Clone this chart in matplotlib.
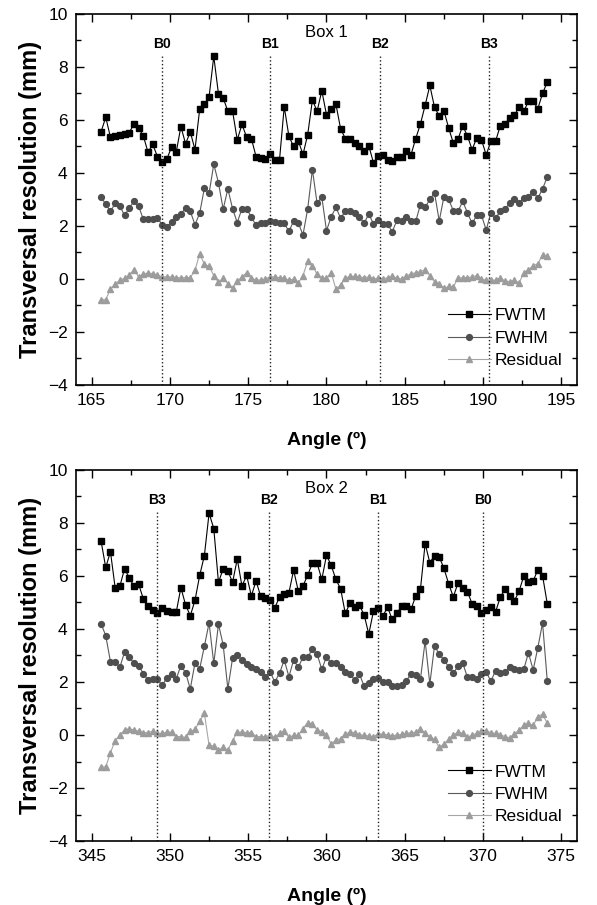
import matplotlib
matplotlib.use("Agg")
import matplotlib.pyplot as plt
from matplotlib.ticker import MultipleLocator

plt.rcParams['font.family'] = ['Liberation Sans', 'DejaVu Sans']

# Box 1 : angles (deg) et resolutions (mm)
angle_box1 = [165.6, 165.9, 166.2, 166.5, 166.8, 167.1, 167.4, 167.7, 168.0, 168.3,
              168.6, 168.9, 169.2, 169.5, 169.8, 170.1, 170.4, 170.7, 171.0, 171.3,
              171.6, 171.9, 172.2, 172.5, 172.8, 173.1, 173.4, 173.7, 174.0, 174.3,
              174.6, 174.9, 175.2, 175.5, 175.8, 176.1, 176.4, 176.7, 177.0, 177.3,
              177.6, 177.9, 178.2, 178.5, 178.8, 179.1, 179.4, 179.7, 180.0, 180.3,
              180.6, 180.9, 181.2, 181.5, 181.8, 182.1, 182.4, 182.7, 183.0, 183.3,
              183.6, 183.9, 184.2, 184.5, 184.8, 185.1, 185.4, 185.7, 186.0, 186.3,
              186.6, 186.9, 187.2, 187.5, 187.8, 188.1, 188.4, 188.7, 189.0, 189.3,
              189.6, 189.9, 190.2, 190.5, 190.8, 191.1, 191.4, 191.7, 192.0, 192.3,
              192.6, 192.9, 193.2, 193.5, 193.8, 194.1]
fwtm_box1 = [5.55, 6.1, 5.35, 5.38, 5.42, 5.47, 5.52, 5.85, 5.7, 5.4,
             4.78, 5.08, 4.62, 4.4, 4.52, 4.97, 4.78, 5.75, 5.1, 5.55,
             4.88, 6.4, 6.6, 6.87, 8.4, 6.98, 6.83, 6.33, 6.33, 5.25,
             5.83, 5.35, 5.3, 4.62, 4.55, 4.52, 4.72, 4.48, 4.5, 6.5,
             5.38, 5.0, 5.2, 4.7, 5.45, 6.75, 6.33, 7.1, 6.2, 6.43,
             6.6, 5.67, 5.3, 5.27, 5.12, 5.0, 4.82, 5.02, 4.39, 4.64,
             4.67, 4.49, 4.47, 4.59, 4.62, 4.82, 4.69, 5.3, 5.85, 6.55,
             7.3, 6.48, 6.15, 6.35, 5.7, 5.13, 5.28, 5.78, 5.4, 4.88,
             5.33, 5.25, 4.68, 5.2, 5.2, 5.78, 5.85, 6.08, 6.18, 6.48,
             6.33, 6.7, 6.7, 6.43, 7.0, 7.43]
fwhm_box1 = [3.08, 2.83, 2.55, 2.85, 2.75, 2.4, 2.68, 2.93, 2.75, 2.25,
             2.28, 2.28, 2.3, 2.05, 1.95, 2.15, 2.33, 2.45, 2.68, 2.55,
             2.05, 2.48, 3.43, 3.23, 4.33, 3.63, 2.63, 3.4, 2.65, 2.13,
             2.65, 2.65, 2.33, 2.03, 2.1, 2.12, 2.18, 2.15, 2.12, 2.1,
             1.8, 2.18, 2.1, 1.67, 2.65, 4.13, 2.85, 3.1, 1.82, 2.35,
             2.7, 2.3, 2.55, 2.57, 2.48, 2.35, 2.1, 2.45, 2.08, 2.23,
             2.07, 2.07, 1.78, 2.22, 2.2, 2.35, 2.18, 2.18, 2.8, 2.7,
             3.0, 3.25, 2.19, 3.1, 3.0, 2.58, 2.55, 2.93, 2.5, 2.1,
             2.4, 2.4, 1.85, 2.5, 2.3, 2.55, 2.65, 2.85, 3.0, 2.85,
             3.05, 3.1, 3.3, 3.05, 3.4, 3.85]
resid_box1 = [-0.78, -0.78, -0.38, -0.2, -0.05, 0.03, 0.15, 0.35, 0.08, 0.18,
              0.23, 0.2, 0.15, 0.08, 0.08, 0.08, 0.05, 0.05, 0.05, 0.05,
              0.33, 0.95, 0.55, 0.48, 0.13, -0.13, 0.03, -0.18, -0.33, -0.08,
              0.08, 0.23, 0.05, -0.05, -0.03, 0.0, 0.08, 0.08, 0.05, 0.03,
              -0.05, 0.0, -0.15, 0.13, 0.68, 0.5, 0.18, 0.03, 0.03, 0.23,
              -0.38, -0.23, 0.03, 0.1, 0.1, 0.08, 0.05, 0.08, 0.0, 0.03,
              0.0, 0.05, 0.1, 0.03, 0.0, 0.1, 0.2, 0.23, 0.28, 0.35,
              0.13, -0.1, -0.18, -0.35, -0.28, -0.3, 0.03, 0.05, 0.05, 0.08,
              0.13, 0.0, -0.05, -0.03, -0.05, 0.05, -0.08, -0.1, -0.05, -0.15,
              0.23, 0.35, 0.5, 0.58, 0.9, 0.85]
blocks_box1 = ["B0", "B1", "B2", "B3"]
blocks_pos_box1 = [169.5, 176.4, 183.4, 190.4]

# Box 2
angle_box2 = [345.6, 345.9, 346.2, 346.5, 346.8, 347.1, 347.4, 347.7, 348.0, 348.3,
              348.6, 348.9, 349.2, 349.5, 349.8, 350.1, 350.4, 350.7, 351.0, 351.3,
              351.6, 351.9, 352.2, 352.5, 352.8, 353.1, 353.4, 353.7, 354.0, 354.3,
              354.6, 354.9, 355.2, 355.5, 355.8, 356.1, 356.4, 356.7, 357.0, 357.3,
              357.6, 357.9, 358.2, 358.5, 358.8, 359.1, 359.4, 359.7, 360.0, 360.3,
              360.6, 360.9, 361.2, 361.5, 361.8, 362.1, 362.4, 362.7, 363.0, 363.3,
              363.6, 363.9, 364.2, 364.5, 364.8, 365.1, 365.4, 365.7, 366.0, 366.3,
              366.6, 366.9, 367.2, 367.5, 367.8, 368.1, 368.4, 368.7, 369.0, 369.3,
              369.6, 369.9, 370.2, 370.5, 370.8, 371.1, 371.4, 371.7, 372.0, 372.3,
              372.6, 372.9, 373.2, 373.5, 373.8, 374.1]
fwtm_box2 = [7.32, 6.32, 6.92, 5.56, 5.61, 6.27, 5.94, 5.61, 5.69, 5.14,
             4.88, 4.73, 4.6, 4.78, 4.66, 4.63, 4.63, 5.56, 4.91, 4.5,
             5.08, 6.02, 6.77, 8.37, 7.79, 5.76, 6.27, 6.19, 5.76, 6.64,
             5.62, 6.02, 5.25, 5.81, 5.23, 5.18, 5.08, 4.8, 5.21, 5.31,
             5.37, 6.22, 5.43, 5.63, 6.03, 6.49, 6.48, 5.87, 6.78, 6.4,
             5.87, 5.52, 4.59, 4.97, 4.82, 4.89, 4.54, 3.81, 4.67, 4.79,
             4.49, 4.82, 4.36, 4.59, 4.87, 4.87, 4.74, 5.25, 5.5, 7.22,
             6.5, 6.77, 6.72, 6.29, 5.71, 5.21, 5.74, 5.53, 5.41, 4.95,
             4.85, 4.6, 4.72, 4.83, 4.65, 5.2, 5.5, 5.26, 5.06, 5.43,
             5.99, 5.76, 5.81, 6.24, 6.01, 4.96]
fwhm_box2 = [4.2, 3.75, 2.77, 2.77, 2.55, 3.13, 2.95, 2.7, 2.62, 2.32,
             2.07, 2.12, 2.12, 1.87, 2.15, 2.3, 2.12, 2.62, 2.35, 1.74,
             2.72, 2.5, 3.35, 4.23, 2.7, 4.18, 3.4, 1.74, 2.9, 3.03,
             2.82, 2.68, 2.58, 2.5, 2.38, 2.2, 2.38, 2.0, 2.33, 2.83,
             2.2, 2.83, 2.55, 2.95, 2.95, 3.23, 3.05, 2.48, 2.95, 2.7,
             2.7, 2.58, 2.38, 2.3, 2.08, 2.3, 1.85, 1.95, 2.1, 2.15,
             2.0, 2.0, 1.85, 1.85, 1.9, 2.05, 2.3, 2.25, 2.1, 3.55,
             1.92, 3.37, 3.04, 2.84, 2.57, 2.34, 2.59, 2.72, 2.18, 2.18,
             2.13, 2.3, 2.38, 2.03, 2.43, 2.35, 2.38, 2.55, 2.5, 2.45,
             2.48, 3.1, 2.45, 3.3, 4.23, 2.05]
resid_box2 = [-1.2, -1.2, -0.67, -0.21, 0.0, 0.19, 0.24, 0.19, 0.14, 0.09,
              0.09, 0.14, 0.06, 0.06, 0.11, 0.11, -0.06, -0.06, -0.09, 0.14,
              0.21, 0.52, 0.82, -0.39, -0.42, -0.57, -0.47, -0.57, -0.21, 0.11,
              0.11, 0.09, 0.09, -0.06, -0.06, -0.06, -0.01, -0.09, 0.06, 0.14,
              -0.09, -0.01, -0.01, 0.24, 0.47, 0.42, 0.19, 0.11, 0.0, -0.34,
              -0.19, -0.14, 0.04, 0.11, 0.09, 0.0, 0.0, -0.04, -0.06, 0.04,
              0.04, 0.0, -0.03, 0.0, 0.02, 0.06, 0.09, 0.11, 0.24, 0.06,
              -0.06, -0.16, -0.47, -0.34, -0.16, 0.0, 0.11, 0.06, -0.09, 0.0,
              0.06, 0.14, 0.16, 0.09, 0.06, 0.01, -0.06, -0.11, 0.04, 0.19,
              0.36, 0.44, 0.36, 0.69, 0.79, 0.44]
blocks_box2 = ["B3", "B2", "B1", "B0"]
blocks_pos_box2 = [349.2, 356.3, 363.3, 370.0]


def draw_panel(ax, angle, fwtm, fwhm, resid, blocks, blocks_pos, title, xmin):
    ax.plot(angle, fwtm, '-s', color='black', lw=0.8, ms=4.0, label='FWTM')
    ax.plot(angle, fwhm, '-o', color='#5a5a5a', mfc='#4f4f4f', mec='#4f4f4f',
            lw=0.8, ms=4.2, label='FWHM')
    ax.plot(angle, resid, '-^', color='#a6a6a6', mfc='#9c9c9c', mec='#9c9c9c',
            lw=0.8, ms=4.2, label='Residual')

    for name, pos in zip(blocks, blocks_pos):
        ax.plot([pos, pos], [-4, 8.4], ':', color='#222222', lw=1.0)
        ax.text(pos, 8.85, name, ha='center', va='center', fontsize=10,
                fontweight='bold')
    ax.text(xmin + 16, 9.3, title, ha='center', va='center', fontsize=12)

    ax.set_xlim(xmin, xmin + 32)
    ax.set_ylim(-4, 10)
    ax.xaxis.set_major_locator(MultipleLocator(5))
    ax.xaxis.set_minor_locator(MultipleLocator(2.5))
    ax.yaxis.set_major_locator(MultipleLocator(2))
    ax.yaxis.set_minor_locator(MultipleLocator(1))
    ax.tick_params(which='both', direction='in', top=True, right=True,
                   labelsize=12.5, width=1.0, pad=6)
    ax.tick_params(which='major', length=6)
    ax.tick_params(which='minor', length=3.5)
    for sp in ax.spines.values():
        sp.set_linewidth(1.2)
    ax.set_xlabel("Angle (º)", fontsize=14, fontweight='bold', labelpad=17)
    ax.set_ylabel("Transversal resolution (mm)", fontsize=17,
                  fontweight='bold', labelpad=4)
    ax.legend(loc='lower right', bbox_to_anchor=(0.995, 0.012), frameon=False,
              fontsize=12.5, numpoints=1, handlelength=2.5, handletextpad=0.2,
              labelspacing=0.42, borderaxespad=0.3)


def main():
    fig = plt.figure(figsize=(5.97, 9.05), dpi=100)
    ax1 = fig.add_axes([0.1273, 0.5746, 0.8392, 0.41])
    ax2 = fig.add_axes([0.1273, 0.0707, 0.8392, 0.41])
    draw_panel(ax1, angle_box1, fwtm_box1, fwhm_box1, resid_box1,
               blocks_box1, blocks_pos_box1, "Box 1", 164)
    draw_panel(ax2, angle_box2, fwtm_box2, fwhm_box2, resid_box2,
               blocks_box2, blocks_pos_box2, "Box 2", 344)
    fig.savefig("out.png", dpi=100)


if __name__ == "__main__":
    main()
